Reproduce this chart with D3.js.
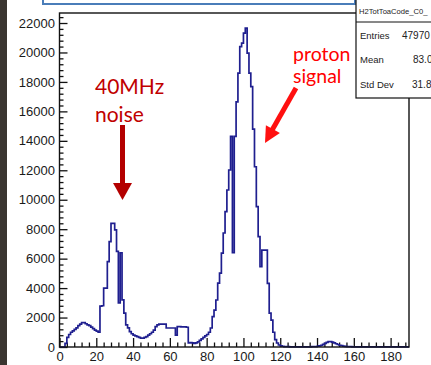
<!DOCTYPE html>
<html>
<head>
<meta charset="utf-8">
<script src="https://cdn.jsdelivr.net/npm/d3@7"></script>
<style>
  html, body { margin: 0; padding: 0; background: #fff; }
  svg { display: block; }
</style>
</head>
<body>
<svg id="chart" width="431" height="365"></svg>
<script>
// ToT/TOA code histogram, unit-width bins starting at 0
const binStart = 0;
const binWidth = 1;
const binCounts = [
  0, 0, 0, 250, 650, 850, 1000, 1100, 1200, 1300,
  1450, 1550, 1650, 1650, 1580, 1500, 1450, 1350, 1250, 1150,
  1080, 1000, 2780, 2800, 4000, 4000, 5800, 7150, 8400, 8400,
  7950, 6500, 3000, 6400, 3200, 2300, 1500, 1300, 1040, 900,
  800, 750, 700, 650, 600, 600, 650, 700, 800, 900,
  1000, 1150, 1380, 1500, 1560, 1560, 1560, 1550, 1290, 1290,
  1290, 1290, 1290, 800, 1380, 1380, 1360, 1360, 1360, 1340,
  270, 300, 280, 250, 280, 350, 450, 550, 650, 750,
  850, 1000, 1290, 2060, 2500, 3190, 4340, 5020, 6380, 7740,
  9190, 10660, 12020, 14300, 6400, 14300, 16650, 18600, 20390, 20640,
  21320, 21650, 19960, 18600, 17680, 14800, 12240, 9530, 7490, 5450,
  6580, 6580, 6580, 4320, 2300, 1830, 1000, 500, 270, 135,
  80, 50, 30, 20, 20, 15, 15, 10, 10, 10,
  10, 10, 10, 10, 10, 10, 15, 20, 25, 30,
  50, 80, 120, 180, 250, 320, 360, 360, 330, 280,
  220, 170, 120, 90, 60, 40, 30, 20, 20, 15,
  15, 10, 10, 10, 10, 10, 10, 10, 10, 10,
  10, 10, 10, 10, 10, 10, 10, 10, 10, 10,
  10, 10, 10, 10, 10, 10, 10, 10, 10, 10
];

const xMajorTicks = [0, 20, 40, 60, 80, 100, 120, 140, 160, 180];
const yMajorTicks = [0, 2000, 4000, 6000, 8000, 10000, 12000, 14000, 16000, 18000, 20000, 22000];
const xMinorStep = 4;
const yMinorStep = 400;

const statTitle = "H2TotToaCode_C0_";
const statLabels = ["Entries", "Mean", "Std Dev"];
const statValues = ["47970", "83.0", "31.8"];

const svg = d3.select("#chart");

// page edge and banner box above the pad
svg.append("rect").attr("x", 0).attr("y", 0).attr("width", 7).attr("height", 365).attr("fill", "#3a3530");
svg.append("rect").attr("x", 43).attr("y", -10).attr("width", 312).attr("height", 14)
  .attr("fill", "none").attr("stroke", "#4a7db9").attr("stroke-width", 2);

const padL = 59.5, padR = 409, padT = 13, padB = 347;
const x = d3.scaleLinear().domain([0, 190]).range([padL, padR]);
const y = d3.scaleLinear().domain([0, 22680]).range([padB, padT]);

// minor ticks
const xMinor = d3.range(0, 190 + 1e-9, xMinorStep).filter(v => v % 20 !== 0);
const yMinor = d3.range(0, 22680, yMinorStep).filter(v => v % 2000 !== 0);

const axisFont = "'Liberation Sans', Arial, Helvetica, sans-serif";

svg.append("g").attr("transform", `translate(0,${padB})`)
  .call(d3.axisBottom(x).tickValues(xMajorTicks).tickFormat(d3.format("d")).tickSizeInner(-9).tickSizeOuter(0).tickPadding(5));
svg.append("g").attr("transform", `translate(0,${padB})`)
  .call(d3.axisBottom(x).tickValues(xMinor).tickFormat("").tickSizeInner(-4.5).tickSizeOuter(0));

svg.append("g").attr("transform", `translate(${padL},0)`)
  .call(d3.axisLeft(y).tickValues(yMajorTicks).tickFormat(d3.format("d")).tickSizeInner(-8).tickSizeOuter(0).tickPadding(4.5));
svg.append("g").attr("transform", `translate(${padL},0)`)
  .call(d3.axisLeft(y).tickValues(yMinor).tickFormat("").tickSizeInner(-4).tickSizeOuter(0));

svg.selectAll(".domain").remove();
svg.selectAll(".tick line").attr("stroke", "#111").attr("stroke-width", 1.3);
svg.selectAll(".tick text").attr("font-family", axisFont).attr("font-size", 13).attr("fill", "#1a1a1a");

// histogram outline as steps
const stepPts = [[binStart, 0]];
binCounts.forEach((c, i) => {
  const x0 = binStart + i * binWidth;
  stepPts.push([x0, c], [x0 + binWidth, c]);
});
const line = d3.line().x(d => x(d[0])).y(d => y(d[1]));
svg.append("path").datum(stepPts).attr("d", line)
  .attr("fill", "none").attr("stroke", "#1f1f8f").attr("stroke-width", 1.7).attr("stroke-linejoin", "miter");

// pad frame
svg.append("rect").attr("x", padL).attr("y", padT).attr("width", padR - padL).attr("height", padB - padT)
  .attr("fill", "none").attr("stroke", "#111").attr("stroke-width", 1.4);

// statistics box
const sb = svg.append("g");
sb.append("rect").attr("x", 356).attr("y", -2).attr("width", 90).attr("height", 100)
  .attr("fill", "#fff").attr("stroke", "#111").attr("stroke-width", 1.2);
sb.append("line").attr("x1", 356).attr("x2", 431).attr("y1", 22).attr("y2", 22).attr("stroke", "#111").attr("stroke-width", 1);
sb.append("text").attr("x", 359).attr("y", 14).text(statTitle)
  .attr("font-family", axisFont).attr("font-size", 7.6).attr("fill", "#222");
const valueX = [402, 413, 412];
statLabels.forEach((lab, i) => {
  const yy = 38.5 + i * 24.5;
  sb.append("text").attr("x", 360).attr("y", yy).text(lab)
    .attr("font-family", axisFont).attr("font-size", 9.5).attr("fill", "#222");
  sb.append("text").attr("x", valueX[i]).attr("y", yy).text(statValues[i])
    .attr("font-family", axisFont).attr("font-size", 10).attr("fill", "#222");
});

// annotations
const annFont = "Lato, 'Open Sans', sans-serif";
const noise = svg.append("text").attr("font-family", annFont).attr("font-size", 21).attr("fill", "#c00000");
noise.append("tspan").attr("x", 95).attr("y", 94).text("40MHz");
noise.append("tspan").attr("x", 95).attr("y", 122).text("noise");

svg.append("rect").attr("x", 120).attr("y", 125).attr("width", 5).attr("height", 60).attr("fill", "#b40000");
svg.append("path").attr("d", "M113,183 L132,183 L122.5,200 Z").attr("fill", "#b40000");

const proton = svg.append("text").attr("font-family", annFont).attr("font-size", 19.5).attr("fill", "#ff0000");
proton.append("tspan").attr("x", 293).attr("y", 61).text("proton");
proton.append("tspan").attr("x", 293).attr("y", 83).text("signal");

svg.append("line").attr("x1", 296).attr("y1", 88).attr("x2", 271).attr("y2", 132)
  .attr("stroke", "#ff1010").attr("stroke-width", 5);
svg.append("path").attr("d", "M265,143 L279.9,133 L265.9,125.2 Z").attr("fill", "#ff1010");
</script>
</body>
</html>
